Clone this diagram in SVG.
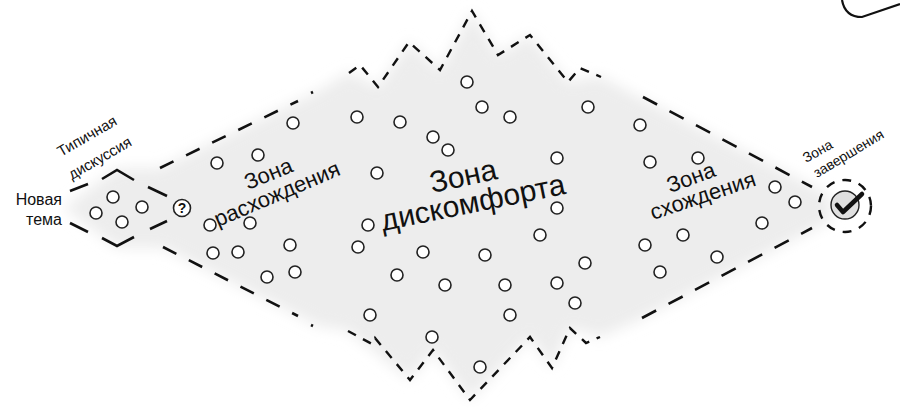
<svg xmlns="http://www.w3.org/2000/svg" width="900" height="410" viewBox="0 0 900 410">
<defs>
<filter id="blur" x="-10%" y="-10%" width="120%" height="120%"><feGaussianBlur stdDeviation="7"/></filter>
<path id="p1" d="M61,157 l173.2,-100"/>
<path id="p2" d="M72,180 l173.2,-100"/>
<path id="p3" d="M248,190 l185.4,-75"/>
<path id="p4" d="M218,227 l184.2,-78.2"/>
<path id="p5" d="M432,193 l195.6,-41.6"/>
<path id="p6" d="M383,231 l196,-39.8"/>
<path id="p7" d="M670,193 l188,-68.4"/>
<path id="p8" d="M653,220 l189.6,-63.4"/>
<path id="p9" d="M806,163 l175,-97"/>
<path id="p10" d="M817,178 l171.4,-103"/>
<style>
.c{fill:#fff;stroke:#222;stroke-width:1.6}
.d{fill:none;stroke:#111;stroke-width:2.6;stroke-dasharray:15 14;stroke-linecap:butt}
.j{fill:none;stroke:#111;stroke-width:2.4;stroke-dasharray:9 8;stroke-linejoin:miter}
.s{fill:none;stroke:#111;stroke-width:2.6;stroke-linejoin:miter}
.t{font-family:"Liberation Sans",Arial,sans-serif;fill:#111}
</style>
</defs>
<rect width="900" height="410" fill="#fff"/>
<g id="shading">
<path d="M64,208 L117,168 L160,168 L320,90 L349,72 L378,87 L409,42 L440,70 L472,11 L498,55 L530,35 L568,82 L600,76 L635,95 L830,195 L832,220 L635,322 L600,337 L570,328 L552,368 L530,337 L470,400 L433,350 L410,380 L348,331 L318,326 L163,248 L117,248 Z" fill="#ededed" filter="url(#blur)"/>
</g>
<g id="connectors">
<path class="s" d="M70,191 L88,184 M102,179 L117,170 L134,180 M148,187 L167,196 M70,223 L88,232 M102,238 L117,246 L134,237 M150,229 L167,221"/>
<path class="d" d="M160,168 L298,101"/>
<path class="d" d="M163,247 L298,316"/>
<path class="s" d="M311,93 L313,92 M311,325 L313,326"/>
<path class="j" d="M349,73 L360,65 L378,87 L409,42 L440,70 L472,11 L498,55 L530,35 L568,82 L580,68 L601,77"/>
<path class="j" d="M348,331 L372,344 L375,338 L410,380 L433,350 L470,400 L530,337 L552,368 L570,328 L586,343 L600,337"/>
<path class="d" d="M643,97 L812,187" style="stroke-dasharray:16 14"/>
<path class="d" d="M642,318 L812,228" style="stroke-dasharray:16 14"/>
<path class="s" d="M842,0 Q845,17 862,17 L900,4" style="stroke-width:2.2"/>
</g>
<g id="new-topic">
<text class="t" x="62" y="205" font-size="16" text-anchor="end">Новая</text>
<text class="t" x="62" y="225" font-size="16" text-anchor="end">тема</text>
</g>
<g id="typical-discussion">
<text class="t" font-size="15"><textPath href="#p1">Типичная</textPath></text>
<text class="t" font-size="15"><textPath href="#p2">дискуссия</textPath></text>
<circle class="c" cx="113" cy="197" r="6"/>
<circle class="c" cx="96" cy="213" r="6"/>
<circle class="c" cx="122" cy="222" r="6"/>
<circle class="c" cx="142" cy="207" r="6"/>
</g>
<g id="question">
<circle cx="182" cy="208" r="8.5" fill="#fff" stroke="#222" stroke-width="1.6"/>
<text class="t" x="182" y="213" font-size="14" font-weight="bold" text-anchor="middle">?</text>
</g>
<g id="divergence">
<text class="t" font-size="22"><textPath href="#p3">Зона</textPath></text>
<text class="t" font-size="22"><textPath href="#p4">расхождения</textPath></text>
<circle class="c" cx="293" cy="123" r="6"/>
<circle class="c" cx="217" cy="163" r="6"/>
<circle class="c" cx="258" cy="155" r="6"/>
<circle class="c" cx="210" cy="225" r="6"/>
<circle class="c" cx="250" cy="223" r="6"/>
<circle class="c" cx="213" cy="253" r="6"/>
<circle class="c" cx="238" cy="252" r="6"/>
<circle class="c" cx="290" cy="245" r="6"/>
<circle class="c" cx="267" cy="277" r="6"/>
<circle class="c" cx="295" cy="272" r="6"/>
</g>
<g id="discomfort">
<text class="t" font-size="30"><textPath href="#p5">Зона</textPath></text>
<text class="t" font-size="30"><textPath href="#p6">дискомфорта</textPath></text>
<circle class="c" cx="467" cy="82" r="6"/>
<circle class="c" cx="482" cy="107" r="6"/>
<circle class="c" cx="510" cy="117" r="6"/>
<circle class="c" cx="588" cy="107" r="6"/>
<circle class="c" cx="357" cy="117" r="6"/>
<circle class="c" cx="400" cy="122" r="6"/>
<circle class="c" cx="433" cy="137" r="6"/>
<circle class="c" cx="448" cy="150" r="6"/>
<circle class="c" cx="557" cy="158" r="6"/>
<circle class="c" cx="377" cy="173" r="6"/>
<circle class="c" cx="557" cy="208" r="6"/>
<circle class="c" cx="368" cy="225" r="6"/>
<circle class="c" cx="358" cy="247" r="6"/>
<circle class="c" cx="540" cy="235" r="6"/>
<circle class="c" cx="423" cy="252" r="6"/>
<circle class="c" cx="485" cy="255" r="6"/>
<circle class="c" cx="585" cy="263" r="6"/>
<circle class="c" cx="397" cy="275" r="6"/>
<circle class="c" cx="445" cy="285" r="6"/>
<circle class="c" cx="505" cy="285" r="6"/>
<circle class="c" cx="557" cy="283" r="6"/>
<circle class="c" cx="575" cy="303" r="6"/>
<circle class="c" cx="370" cy="315" r="6"/>
<circle class="c" cx="510" cy="315" r="6"/>
<circle class="c" cx="432" cy="337" r="6"/>
<circle class="c" cx="480" cy="367" r="6"/>
</g>
<g id="convergence">
<text class="t" font-size="22"><textPath href="#p7">Зона</textPath></text>
<text class="t" font-size="22"><textPath href="#p8">схождения</textPath></text>
<circle class="c" cx="640" cy="125" r="6"/>
<circle class="c" cx="650" cy="162" r="6"/>
<circle class="c" cx="698" cy="158" r="6"/>
<circle class="c" cx="775" cy="187" r="6"/>
<circle class="c" cx="795" cy="202" r="6"/>
<circle class="c" cx="762" cy="223" r="6"/>
<circle class="c" cx="683" cy="235" r="6"/>
<circle class="c" cx="645" cy="245" r="6"/>
<circle class="c" cx="717" cy="257" r="6"/>
<circle class="c" cx="660" cy="272" r="6"/>
</g>
<g id="completion">
<text class="t" font-size="14"><textPath href="#p9">Зона</textPath></text>
<text class="t" font-size="14"><textPath href="#p10">завершения</textPath></text>
<circle cx="845" cy="206" r="26" fill="none" stroke="#111" stroke-width="2.4" stroke-dasharray="9 8"/>
<circle cx="845" cy="205" r="14" fill="#e0e0e0" stroke="#222" stroke-width="1.4"/>
<path d="M837,205 L843,212 L862,194" fill="none" stroke="#111" stroke-width="4.5" stroke-linecap="round" stroke-linejoin="round"/>
</g>
</svg>
